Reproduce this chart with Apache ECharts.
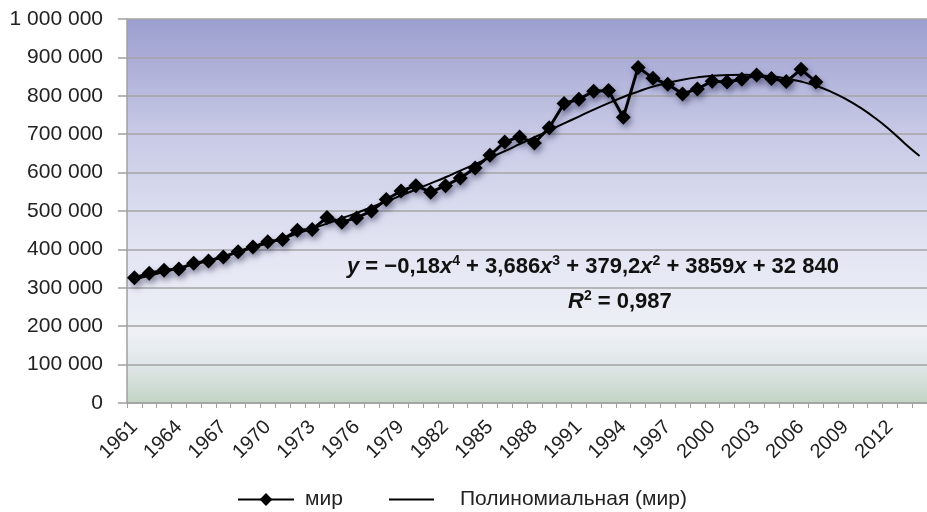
<!DOCTYPE html>
<html>
<head>
<meta charset="utf-8">
<script src="https://cdn.jsdelivr.net/npm/echarts@6/dist/echarts.min.js"></script>
<style>
  html, body { margin: 0; padding: 0; background: #fff; }
  #chart { width: 927px; height: 512px; }
</style>
</head>
<body>
<div id="chart"></div>
<script>
// годы (ось категорий)
var years = [
  "1961","1962","1963","1964","1965","1966","1967","1968","1969","1970",
  "1971","1972","1973","1974","1975","1976","1977","1978","1979","1980",
  "1981","1982","1983","1984","1985","1986","1987","1988","1989","1990",
  "1991","1992","1993","1994","1995","1996","1997","1998","1999","2000",
  "2001","2002","2003","2004","2005","2006","2007","2008","2009","2010",
  "2011","2012","2013","2014"
];
// мир, 1961-2007
var worldValues = [
  326000, 338000, 346000, 349000, 364000, 370000, 380000, 394000, 406000, 420000,
  426000, 450000, 452000, 483000, 471000, 482000, 500000, 530000, 552000, 566000,
  549000, 566000, 586000, 612000, 645000, 680000, 693000, 677000, 717000, 780000,
  791000, 812000, 814000, 744000, 874000, 846000, 830000, 805000, 818000, 838000,
  836000, 843000, 854000, 845000, 837000, 869000, 836000
];
// полиномиальная линия тренда
var trendValues = [
  322000, 331000, 341000, 351000, 361000, 371000, 382000, 393000, 404000, 416000,
  428000, 441000, 454000, 467000, 481000, 495000, 510000, 525000, 540000, 556000,
  572000, 588000, 605000, 622000, 639000, 656000, 674000, 692000, 710000, 728000,
  746000, 764000, 781000, 797000, 811000, 824000, 834000, 842000, 848000, 852000,
  854000, 855000, 854000, 851000, 845000, 837000, 826000, 811000, 792000, 769000,
  742000, 711000, 676000, 643000
];
var yTicks = { min: 0, max: 1000000, step: 100000 };

var font = "Liberation Sans, Arial, Helvetica, sans-serif";
var chart = echarts.init(document.getElementById("chart"));

var shadow = {
  shadowColor: "rgba(0,0,40,0.35)",
  shadowBlur: 6,
  shadowOffsetX: 2,
  shadowOffsetY: 4
};

chart.setOption({
  animation: false,
  textStyle: { fontFamily: font, color: "#222" },
  grid: {
    left: 127,
    right: -3,
    top: 19,
    bottom: 109,
    show: true,
    borderWidth: 0,
    backgroundColor: new echarts.graphic.LinearGradient(0, 0, 0, 1, [
      { offset: 0, color: "#9c9ecf" },
      { offset: 0.3, color: "#c8cae6" },
      { offset: 0.6, color: "#e3e5f3" },
      { offset: 0.82, color: "#eef0f6" },
      { offset: 0.9, color: "#dfe7e8" },
      { offset: 1, color: "#c3d4c4" }
    ])
  },
  legend: [
    {
      left: 232,
      top: 484,
      itemWidth: 56,
      itemHeight: 16,
      textStyle: { fontSize: 21, color: "#222", fontFamily: font, padding: [0, 0, 0, 6] },
      data: ["мир"]
    },
    {
      left: 383,
      top: 484,
      itemWidth: 45,
      itemHeight: 16,
      textStyle: { fontSize: 21, color: "#222", fontFamily: font, padding: [0, 0, 0, 21] },
      data: ["Полиномиальная (мир)"]
    }
  ],
  xAxis: {
    type: "category",
    data: years,
    boundaryGap: true,
    axisLine: { lineStyle: { color: "#a0a0a0", width: 1.5 } },
    axisTick: { show: true, interval: 0, length: 5, lineStyle: { color: "#a0a0a0" } },
    axisLabel: { interval: 2, rotate: 45, fontSize: 20, margin: 21, color: "#222" },
    splitLine: { show: false }
  },
  yAxis: {
    type: "value",
    min: yTicks.min,
    max: yTicks.max,
    interval: yTicks.step,
    axisLine: { show: true, lineStyle: { color: "#a0a0a0", width: 1.5 } },
    axisTick: { show: true, length: 9, lineStyle: { color: "#a0a0a0", width: 1.5 } },
    axisLabel: {
      fontSize: 21,
      margin: 24,
      color: "#222",
      formatter: function (v) {
        return String(v).replace(/\B(?=(\d{3})+(?!\d))/g, " ");
      }
    },
    splitLine: { show: true, lineStyle: { color: "#a4a4a4", width: 1.5 } }
  },
  series: [
    {
      name: "мир",
      type: "line",
      data: worldValues,
      symbol: "diamond",
      symbolSize: 15,
      showAllSymbol: true,
      itemStyle: Object.assign({ color: "#000" }, shadow),
      lineStyle: Object.assign({ color: "#000", width: 3 }, shadow),
      z: 3
    },
    {
      name: "Полиномиальная (мир)",
      type: "line",
      data: trendValues,
      symbol: "none",
      smooth: true,
      itemStyle: { color: "#000", opacity: 0 },
      lineStyle: { color: "#000", width: 2 },
      z: 4
    }
  ],
  graphic: [
    {
      type: "text",
      left: 347,
      top: 254,
      style: {
        text: "{i|y} = −0,18{i|x}{s|4} + 3,686{i|x}{s|3} + 379,2{i|x}{s|2} + 3859{i|x} + 32 840",
        font: "bold 22px " + font,
        fill: "#111",
        rich: {
          i: { fontStyle: "italic", fontWeight: "bold", fontSize: 22, fontFamily: font },
          s: { fontWeight: "bold", fontSize: 14, fontFamily: font, padding: [0, 0, 11, 0] }
        }
      }
    },
    {
      type: "text",
      left: 568,
      top: 289,
      style: {
        text: "{i|R}{s|2} = 0,987",
        font: "bold 22px " + font,
        fill: "#111",
        rich: {
          i: { fontStyle: "italic", fontWeight: "bold", fontSize: 22, fontFamily: font },
          s: { fontWeight: "bold", fontSize: 14, fontFamily: font, padding: [0, 0, 11, 0] }
        }
      }
    }
  ]
});
</script>
</body>
</html>
